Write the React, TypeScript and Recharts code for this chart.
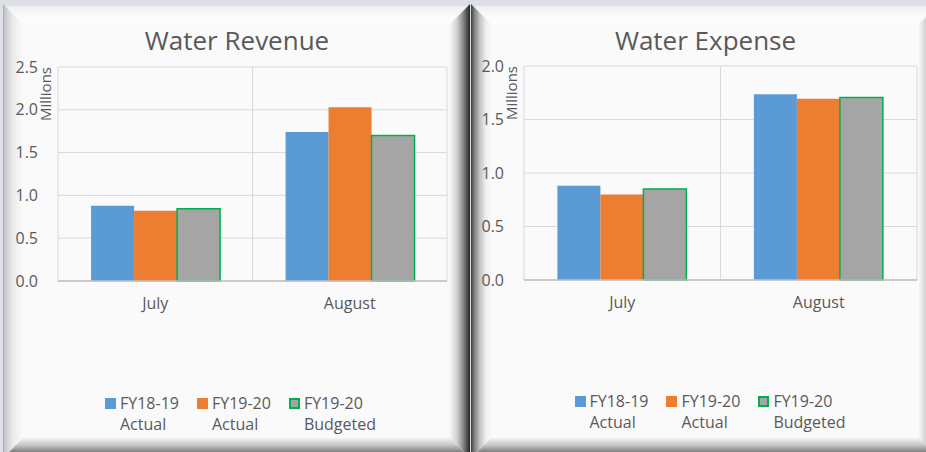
import { Bar, BarChart, CartesianGrid, Legend, XAxis, YAxis } from 'recharts';

const months = ['July', 'August'];
const seriesNames = ['FY18-19 Actual', 'FY19-20 Actual', 'FY19-20 Budgeted'];

// values in millions
const revenueActual1819 = [0.88, 1.74];
const revenueActual1920 = [0.82, 2.03];
const revenueBudget1920 = [0.845, 1.7];

const expenseActual1819 = [0.88, 1.735];
const expenseActual1920 = [0.8, 1.695];
const expenseBudget1920 = [0.85, 1.705];

const revenueTicks = [0, 0.5, 1, 1.5, 2, 2.5];
const expenseTicks = [0, 0.5, 1, 1.5, 2];

const FONT = '"Open Sans", sans-serif';
const TEXT = '#595959';

const series = [
  { key: 'a', name: seriesNames[0], fill: '#5b9bd5', stroke: 'none' },
  { key: 'b', name: seriesNames[1], fill: '#ed7d31', stroke: 'none' },
  { key: 'c', name: seriesNames[2], fill: '#a5a5a5', stroke: '#00b050' },
];

const buildRows = (a: number[], b: number[], c: number[]) =>
  months.map((month, i) => ({ month, a: a[i], b: b[i], c: c[i] }));

const revenueRows = buildRows(revenueActual1819, revenueActual1920, revenueBudget1920);
const expenseRows = buildRows(expenseActual1819, expenseActual1920, expenseBudget1920);

function SplitLegend(props: any) {
  const items = props.payload || [];
  return (
    <div style={{ display: 'flex', justifyContent: 'center', gap: 18, fontFamily: FONT, fontSize: 16, lineHeight: '21px', color: TEXT }}>
      {items.map((p: any) => {
        const s = series.find((x) => x.key === p.dataKey) || series[0];
        const [first, ...rest] = String(p.value).split(' ');
        return (
          <div key={s.key} style={{ display: 'flex', alignItems: 'flex-start' }}>
            <span
              style={{
                width: 11,
                height: 11,
                marginTop: 5,
                marginRight: 4,
                boxSizing: 'border-box',
                background: s.fill,
                border: s.stroke === 'none' ? 'none' : `2px solid ${s.stroke}`,
              }}
            />
            <div>
              <div>{first}</div>
              <div>{rest.join(' ')}</div>
            </div>
          </div>
        );
      })}
    </div>
  );
}

const millionsLabel = (props: any) => {
  const vb = props.viewBox;
  const x = vb.x + vb.width - 13;
  const y = vb.y + 27;
  return (
    <text x={x} y={y} transform={`rotate(-90 ${x} ${y})`} textAnchor="middle" dominantBaseline="central" fill={TEXT} fontSize={15} fontFamily={FONT}>
      Millions
    </text>
  );
};

function Bevel(props: { left: number; width: number; leftSide: string; rightSide: string }) {
  const { left, width: w, leftSide, rightSide } = props;
  const h = 454;
  const b = 20;
  const piece = (x: number, y: number, pw: number, ph: number, clip: string, bg: string) => (
    <div style={{ position: 'absolute', left: x, top: y, width: pw, height: ph, clipPath: clip, background: bg }} />
  );
  return (
    <div style={{ position: 'absolute', left, top: 4, width: w, height: h, background: '#fafafa' }}>
      {piece(0, 0, w, b, `polygon(0 0, ${w}px 0, ${w - b}px ${b}px, ${b}px ${b}px)`, 'linear-gradient(to bottom, #d9d9d9 0px, #f0f0f0 3px, #fbfbfb 12px, #fcfcfc)')}
      {piece(0, 0, b, h, `polygon(0 0, ${b}px ${b}px, ${b}px ${h - b}px, 0 ${h}px)`, leftSide)}
      {piece(w - b, 0, b, h, `polygon(${b}px 0, ${b}px ${h}px, 0 ${h - b}px, 0 ${b}px)`, rightSide)}
      {piece(0, h - b, w, b, `polygon(0 ${b}px, ${b}px 0, ${w - b}px 0, ${w}px ${b}px)`, 'linear-gradient(to bottom, #f2f2f2 0%, #c8c8c8 35%, #8a8a8a 65%, #4a4a4a 100%)')}
    </div>
  );
}

type PanelProps = {
  title: string;
  rows: any[];
  ticks: number[];
  left: number;
  width: number;
  margin: { top: number; right: number; bottom: number; left: number };
  titleWidth: number;
  legendLeft: number;
  legendWidth: number;
  legendTop: number;
};

function Panel({ title, rows, ticks, left, width, margin, titleWidth, legendLeft, legendWidth, legendTop }: PanelProps) {
  const tickStyle = { fill: TEXT, fontSize: 16, fontFamily: FONT };
  return (
    <div style={{ position: 'absolute', left, top: 0, width, height: 452 }}>
      <BarChart width={width} height={452} data={rows} margin={margin} barCategoryGap="17%" barGap={0}>
        <CartesianGrid
          stroke="#d9d9d9"
          verticalCoordinatesGenerator={({ offset }: any) => [offset.left, offset.left + offset.width / 2, offset.left + offset.width]}
        />
        <XAxis dataKey="month" tickLine={false} tickSize={0} tickMargin={17} axisLine={{ stroke: '#bfbfbf', strokeWidth: 1.5 }} tick={tickStyle} />
        <YAxis
          domain={[0, ticks[ticks.length - 1]]}
          ticks={ticks}
          tickFormatter={(v: number) => v.toFixed(1)}
          axisLine={false}
          tickLine={false}
          tickSize={0}
          tickMargin={20}
          width={40}
          tick={tickStyle}
          label={millionsLabel}
        />
        <Legend
          layout="horizontal"
          verticalAlign="middle"
          align="center"
          wrapperStyle={{ left: legendLeft, width: legendWidth, top: legendTop }}
          content={SplitLegend}
        />
        {series.map((s) => (
          <Bar
            key={s.key}
            dataKey={s.key}
            name={s.name}
            fill={s.fill}
            stroke={s.stroke}
            strokeWidth={s.stroke === 'none' ? 0 : 1.5}
            isAnimationActive={false}
          />
        ))}
      </BarChart>
      <div
        style={{
          position: 'absolute',
          left: 0,
          top: 27,
          width: titleWidth,
          textAlign: 'center',
          fontFamily: FONT,
          fontSize: 26,
          lineHeight: '26px',
          color: TEXT,
        }}
      >
        {title}
      </div>
    </div>
  );
}

export default function App() {
  return (
    <div style={{ position: 'fixed', left: 0, top: 0, width: 926, height: 452, overflow: 'hidden', background: '#dce1e8' }}>
      <Bevel
        left={3}
        width={467}
        leftSide="linear-gradient(to right, #a8a8a8 0px, #c9c9c9 2px, #ececec 10px, #fafafa 20px)"
        rightSide="linear-gradient(to right, #f6f6f6 0%, #d0d0d0 35%, #8a8a8a 65%, #454545 88%, #222 100%)"
      />
      <Bevel
        left={471}
        width={468}
        leftSide="linear-gradient(to right, #3a3a3a 0%, #7a7a7a 15%, #c4c4c4 45%, #efefef 75%, #f8f8f8 100%)"
        rightSide="linear-gradient(to right, #f6f6f6 0%, #d0d0d0 35%, #8a8a8a 65%, #454545 88%, #222 100%)"
      />
      <Panel
        title="Water Revenue"
        rows={revenueRows}
        ticks={revenueTicks}
        left={0}
        width={470}
        margin={{ top: 67, right: 23, bottom: 141, left: 18 }}
        titleWidth={474}
        legendLeft={10}
        legendWidth={461}
        legendTop={393}
      />
      <Panel
        title="Water Expense"
        rows={expenseRows}
        ticks={expenseTicks}
        left={472}
        width={454}
        margin={{ top: 66, right: 9, bottom: 142, left: 12 }}
        titleWidth={467}
        legendLeft={8}
        legendWidth={460}
        legendTop={391}
      />
    </div>
  );
}
